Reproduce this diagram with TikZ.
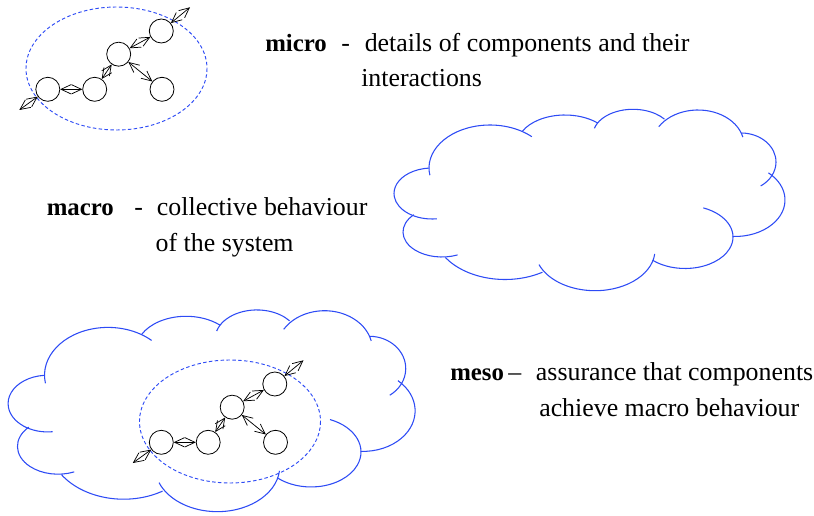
\documentclass[tikz,border=0pt]{standalone}
\usepackage{fontspec}
\setmainfont{Liberation Serif}
\usetikzlibrary{arrows.meta}
\definecolor{cloudblue}{RGB}{45,75,245}
\tikzset{
  cloudline/.style={draw=cloudblue, line width=0.8pt},
  dashell/.style={draw=cloudblue, line width=0.7pt, dash pattern=on 2.6pt off 1.8pt},
  agent/.style={circle, draw=black, line width=0.6pt, minimum size=18pt, inner sep=0pt},
  link/.style={line width=0.55pt, {Straight Barb[length=7.5pt,width=7pt]}-{Straight Barb[length=7.5pt,width=7pt]}},
  lbl/.style={anchor=base west, inner sep=0pt, font=\fontsize{19.4}{23}\selectfont},
  blbl/.style={anchor=base west, inner sep=0pt, font=\fontsize{18.6}{23}\selectfont\bfseries}
}
% one bump of the cloud: centre x, centre y, x radius, y radius, start angle, end angle
\newcommand\mybump[6]{%
 \draw[cloudline] (#1,#2) ++(#5:#3 and #4) arc[start angle=#5, end angle=#6, x radius=#3, y radius=#4];}
\newcommand\mycloudarcs{%
 \mybump{490}{168}{61}{43}{170.3}{313.3}
 \mybump{565}{145}{48}{30}{207.4}{313}
 \mybump{633}{135}{40}{25.7}{195.2}{321.8}
 \mybump{698}{145}{46}{35}{211.5}{347}
 \mybump{741}{162}{35}{29}{271}{415.8}
 \mybump{735}{200}{50}{36.5}{312}{452.7}
 \mybump{685}{237}{48}{31.5}{292.4}{492.3}
 \mybump{595}{250}{60}{40.7}{5.6}{159}
 \mybump{505}{229.5}{72}{50}{58.7}{146}
 \mybump{442}{232}{39}{25}{223.8}{66.5}
 \mybump{432}{193.5}{38}{25.5}{82.7}{265.7}
}
\newcommand\mymicrogroup[1]{%
 \draw[dashell] (116.5,68.5) ellipse [x radius=90.5, y radius=61.5];
 \node[agent] (a#1) at (47.8,89.3) {};
 \node[agent] (b#1) at (94.7,89.3) {};
 \node[agent] (c#1) at (118.7,54.2) {};
 \node[agent] (d#1) at (161.3,31) {};
 \node[agent] (e#1) at (162,89.3) {};
 \coordinate (fa#1) at (19.3,110);
 \coordinate (fd#1) at (190,7.3);
 \draw[link] (a#1) -- (b#1);
 \draw[link] (b#1) -- (c#1);
 \draw[link] (c#1) -- (d#1);
 \draw[link] (c#1) -- (e#1);
 \draw[link] (a#1) -- (fa#1);
 \draw[link] (d#1) -- (fd#1);
}
\begin{document}
\begin{tikzpicture}[x=0.75pt, y=-0.75pt]
\useasboundingbox (0,0) rectangle (814,516);
% top micro group
\begin{scope}
\mymicrogroup{1}
\end{scope}
% macro cloud
\begin{scope}
\mycloudarcs
\end{scope}
% meso cloud with micro group
\begin{scope}[shift={(211.6,410.8)}, xscale=1.041, yscale=1.112, shift={(-589.5,-200)}]
\mycloudarcs
\end{scope}
\begin{scope}[shift={(113.5,353)}]
\mymicrogroup{2}
\end{scope}
% texts
\node[blbl] (micro) at (265,51.7) {micro};
\node[lbl] (microdash) at (341,51.7) {-};
\node[lbl] (microt1) at (364.5,51.7) {details of components and their};
\node[lbl] (microt2) at (361,86.7) {interactions};
\node[blbl] (macro) at (46.5,216) {macro};
\node[lbl] (macrodash) at (134,216) {-};
\node[lbl] (macrot1) at (156.7,216) {collective behaviour};
\node[lbl] (macrot2) at (155.4,251.7) {of the system};
\node[blbl] (meso) at (450,381) {meso};
\node[lbl] (mesodash) at (508,381) {–};
\node[lbl] (mesot1) at (535.7,381) {assurance that components};
\node[lbl] (mesot2) at (539,416.7) {achieve macro behaviour};
\end{tikzpicture}
\end{document}
